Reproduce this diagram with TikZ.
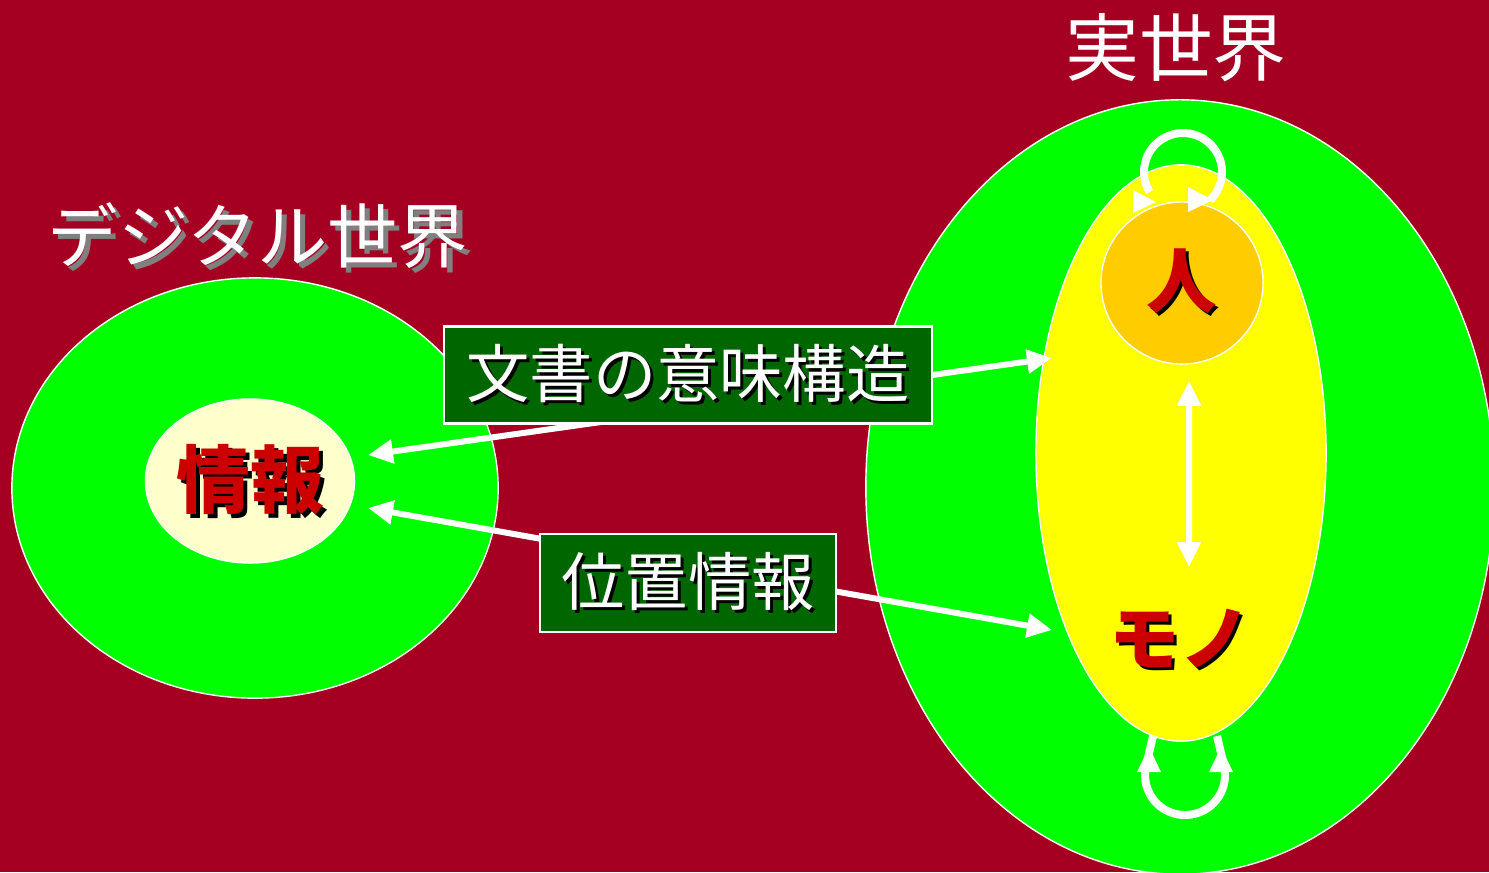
\documentclass[tikz,border=0pt]{standalone}
\usepackage{fontspec}
\newfontfamily\cjk{Noto Sans CJK JP}
\usetikzlibrary{arrows.meta, positioning, shapes.geometric, calc}

\definecolor{bgred}{RGB}{165,0,33}
\definecolor{worldgreen}{RGB}{0,255,0}
\definecolor{thingyellow}{RGB}{255,255,0}
\definecolor{hitoorange}{RGB}{255,204,0}
\definecolor{infocream}{RGB}{255,255,204}
\definecolor{boxgreen}{RGB}{0,102,0}
\definecolor{textred}{RGB}{204,0,0}

% text with a small drop shadow
\newcommand{\shadowed}[3]{\makebox[0pt][l]{\hspace{#2}\raisebox{-#2}{\color{#1}#3}}#3}

\begin{document}
\begin{tikzpicture}[
    x=0.01cm, y=-0.01cm,
    world/.style={ellipse, draw=white, line width=0.4pt, fill=worldgreen},
    title/.style={text=white, font=\cjk\fontsize{20}{20}\selectfont},
    labelbox/.style={rectangle, draw=white, line width=0.6pt, fill=boxgreen, text=white, font=\cjk\fontsize{18}{18}\selectfont},
    redtext/.style={text=textred, font=\cjk\bfseries\fontsize{20}{20}\selectfont},
    arrow/.style={{Triangle[length=0.25cm, width=0.23cm]}-{Triangle[length=0.25cm, width=0.23cm]}, line width=0.06cm, white},
    cycle/.style={line width=0.08cm, white}
]

% fond
\fill[bgred] (0,0) rectangle (1489,872);
\useasboundingbox (0,0) rectangle (1489,872);
\clip (0,0) rectangle (1489,872);

% MONDE NUMERIQUE
\node[world, minimum width=4.86cm, minimum height=4.2cm] (digital) at (255,488) {};
\node[ellipse, draw=white, line width=0.4pt, fill=infocream, inner sep=0pt, minimum width=2.09cm, minimum height=1.64cm, redtext, font=\cjk\bfseries\fontsize{21}{21}\selectfont] (info) at (250,481) {\shadowed{black}{0.4mm}{情報}};
\node[title] (digitaltitle) at (258,238) {\shadowed{gray}{0.5mm}{デジタル世界}};

% MONDE REEL
\node[world, minimum width=6.28cm, minimum height=7.74cm] (real) at (1180,487) {};
\node[ellipse, draw=white, line width=0.4pt, fill=thingyellow, minimum width=2.9cm, minimum height=5.76cm] (thing) at (1181,453) {};
\node[circle, draw=white, line width=0.4pt, fill=hitoorange, minimum size=1.62cm, redtext] (hito) at (1182,283) {\shadowed{black}{0.3mm}{人}};
\node[redtext] (mono) at (1180,640) {\shadowed{black}{0.3mm}{モノ}};
\node[title, font=\cjk\fontsize{21}{21}\selectfont] (realtitle) at (1176,48) {実世界};

% boucles
\coordinate (toploop) at (1183,172);
\draw[cycle] (toploop) ++(149:39) arc[start angle=149, end angle=406, radius=39];
\fill[white] (toploop) ++(-50,18) -- ++(0,23) -- ++(23,-11) -- cycle;
\fill[white] (toploop) ++(5,15) -- ++(0,25) -- ++(25,-12) -- cycle;

\coordinate (botloop) at (1185,775);
\draw[cycle] (1153,736) -- ($(botloop)+(195:40)$) arc[start angle=195, end angle=-15, radius=40] -- (1217,736);
\fill[white] (botloop) ++(-48,-3) -- ++(24,0) -- ++(-12,-25) -- cycle;
\fill[white] (botloop) ++(24,-3) -- ++(24,0) -- ++(-12,-25) -- cycle;

% FLECHES
\coordinate (semL) at (368,455);
\coordinate (semR) at (1052,358);
\coordinate (locL) at (368,508);
\coordinate (locR) at (1052,630);
\coordinate (monotop) at (1189,567);
\draw[arrow] (semL) -- (semR);
\draw[arrow] (locL) -- (locR);
\draw[arrow] ([xshift=0.07cm, yshift=-0.16cm]hito.south) -- (monotop);

% etiquettes
\node[labelbox, minimum width=4.87cm, minimum height=0.97cm] (semantic) at (688,375) {\shadowed{black}{0.3mm}{文書の意味構造}};
\node[labelbox, minimum width=2.95cm, minimum height=0.98cm] (location) at (688,583) {\shadowed{black}{0.3mm}{位置情報}};

\end{tikzpicture}
\end{document}
